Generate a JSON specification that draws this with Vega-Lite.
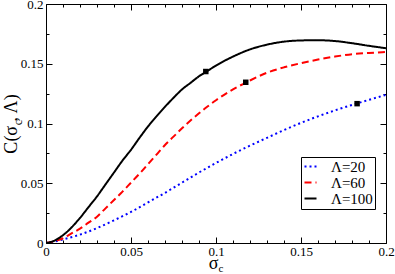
{
  "$schema": "https://vega.github.io/schema/vega-lite/v6.json",
  "width": 340,
  "height": 239,
  "autosize": {"type": "none"},
  "padding": {"left": 46, "top": 4, "right": 9, "bottom": 31},
  "background": "white",
  "config": {
    "font": "Liberation Serif",
    "view": {"stroke": null},
    "axis": {
      "grid": false,
      "domainColor": "black",
      "domainWidth": 1,
      "tickColor": "black",
      "tickWidth": 1,
      "labelColor": "black",
      "labelFont": "Liberation Serif",
      "labelFontSize": 13,
      "titleFont": "Liberation Serif",
      "titleColor": "black",
      "titleFontWeight": "normal",
      "titleFontSize": 18
    },
    "legend": {
      "labelFont": "Liberation Serif"
    },
    "text": {"font": "Liberation Serif"}
  },
  "datasets": {
    "curves": [
      {"sigma": 0, "C": 0, "series": "Λ=20"},
      {"sigma": 0.005, "C": 0.0013, "series": "Λ=20"},
      {"sigma": 0.01, "C": 0.003, "series": "Λ=20"},
      {"sigma": 0.02, "C": 0.007, "series": "Λ=20"},
      {"sigma": 0.03, "C": 0.0125, "series": "Λ=20"},
      {"sigma": 0.04, "C": 0.019, "series": "Λ=20"},
      {"sigma": 0.05, "C": 0.026, "series": "Λ=20"},
      {"sigma": 0.06, "C": 0.034, "series": "Λ=20"},
      {"sigma": 0.07, "C": 0.042, "series": "Λ=20"},
      {"sigma": 0.08, "C": 0.0505, "series": "Λ=20"},
      {"sigma": 0.09, "C": 0.059, "series": "Λ=20"},
      {"sigma": 0.1, "C": 0.067, "series": "Λ=20"},
      {"sigma": 0.11, "C": 0.0745, "series": "Λ=20"},
      {"sigma": 0.12, "C": 0.0815, "series": "Λ=20"},
      {"sigma": 0.13, "C": 0.088, "series": "Λ=20"},
      {"sigma": 0.14, "C": 0.0945, "series": "Λ=20"},
      {"sigma": 0.15, "C": 0.1005, "series": "Λ=20"},
      {"sigma": 0.16, "C": 0.106, "series": "Λ=20"},
      {"sigma": 0.17, "C": 0.111, "series": "Λ=20"},
      {"sigma": 0.18, "C": 0.1155, "series": "Λ=20"},
      {"sigma": 0.19, "C": 0.1198, "series": "Λ=20"},
      {"sigma": 0.2, "C": 0.124, "series": "Λ=20"},

      {"sigma": 0, "C": 0, "series": "Λ=60"},
      {"sigma": 0.005, "C": 0.0015, "series": "Λ=60"},
      {"sigma": 0.01, "C": 0.004, "series": "Λ=60"},
      {"sigma": 0.015, "C": 0.008, "series": "Λ=60"},
      {"sigma": 0.02, "C": 0.012, "series": "Λ=60"},
      {"sigma": 0.025, "C": 0.017, "series": "Λ=60"},
      {"sigma": 0.03, "C": 0.022, "series": "Λ=60"},
      {"sigma": 0.035, "C": 0.029, "series": "Λ=60"},
      {"sigma": 0.04, "C": 0.036, "series": "Λ=60"},
      {"sigma": 0.045, "C": 0.043, "series": "Λ=60"},
      {"sigma": 0.05, "C": 0.0505, "series": "Λ=60"},
      {"sigma": 0.055, "C": 0.058, "series": "Λ=60"},
      {"sigma": 0.06, "C": 0.066, "series": "Λ=60"},
      {"sigma": 0.065, "C": 0.074, "series": "Λ=60"},
      {"sigma": 0.07, "C": 0.082, "series": "Λ=60"},
      {"sigma": 0.075, "C": 0.089, "series": "Λ=60"},
      {"sigma": 0.08, "C": 0.096, "series": "Λ=60"},
      {"sigma": 0.085, "C": 0.1025, "series": "Λ=60"},
      {"sigma": 0.09, "C": 0.1085, "series": "Λ=60"},
      {"sigma": 0.095, "C": 0.1142, "series": "Λ=60"},
      {"sigma": 0.1, "C": 0.1195, "series": "Λ=60"},
      {"sigma": 0.11, "C": 0.1285, "series": "Λ=60"},
      {"sigma": 0.12, "C": 0.136, "series": "Λ=60"},
      {"sigma": 0.13, "C": 0.1425, "series": "Λ=60"},
      {"sigma": 0.14, "C": 0.147, "series": "Λ=60"},
      {"sigma": 0.15, "C": 0.1505, "series": "Λ=60"},
      {"sigma": 0.16, "C": 0.1535, "series": "Λ=60"},
      {"sigma": 0.17, "C": 0.156, "series": "Λ=60"},
      {"sigma": 0.18, "C": 0.158, "series": "Λ=60"},
      {"sigma": 0.19, "C": 0.159, "series": "Λ=60"},
      {"sigma": 0.2, "C": 0.1598, "series": "Λ=60"},

      {"sigma": 0, "C": 0, "series": "Λ=100"},
      {"sigma": 0.005, "C": 0.002, "series": "Λ=100"},
      {"sigma": 0.01, "C": 0.0065, "series": "Λ=100"},
      {"sigma": 0.015, "C": 0.013, "series": "Λ=100"},
      {"sigma": 0.02, "C": 0.021, "series": "Λ=100"},
      {"sigma": 0.025, "C": 0.03, "series": "Λ=100"},
      {"sigma": 0.03, "C": 0.039, "series": "Λ=100"},
      {"sigma": 0.035, "C": 0.049, "series": "Λ=100"},
      {"sigma": 0.04, "C": 0.059, "series": "Λ=100"},
      {"sigma": 0.045, "C": 0.069, "series": "Λ=100"},
      {"sigma": 0.05, "C": 0.078, "series": "Λ=100"},
      {"sigma": 0.055, "C": 0.088, "series": "Λ=100"},
      {"sigma": 0.06, "C": 0.0975, "series": "Λ=100"},
      {"sigma": 0.065, "C": 0.106, "series": "Λ=100"},
      {"sigma": 0.07, "C": 0.114, "series": "Λ=100"},
      {"sigma": 0.075, "C": 0.1215, "series": "Λ=100"},
      {"sigma": 0.08, "C": 0.1285, "series": "Λ=100"},
      {"sigma": 0.085, "C": 0.134, "series": "Λ=100"},
      {"sigma": 0.09, "C": 0.1395, "series": "Λ=100"},
      {"sigma": 0.095, "C": 0.144, "series": "Λ=100"},
      {"sigma": 0.1, "C": 0.1485, "series": "Λ=100"},
      {"sigma": 0.11, "C": 0.156, "series": "Λ=100"},
      {"sigma": 0.12, "C": 0.162, "series": "Λ=100"},
      {"sigma": 0.13, "C": 0.166, "series": "Λ=100"},
      {"sigma": 0.14, "C": 0.1685, "series": "Λ=100"},
      {"sigma": 0.15, "C": 0.1695, "series": "Λ=100"},
      {"sigma": 0.16, "C": 0.1697, "series": "Λ=100"},
      {"sigma": 0.17, "C": 0.169, "series": "Λ=100"},
      {"sigma": 0.18, "C": 0.1672, "series": "Λ=100"},
      {"sigma": 0.19, "C": 0.165, "series": "Λ=100"},
      {"sigma": 0.2, "C": 0.163, "series": "Λ=100"}
    ],
    "markers": [
      {"sigma": 0.094, "C": 0.1435},
      {"sigma": 0.1175, "C": 0.1345},
      {"sigma": 0.183, "C": 0.1166}
    ],
    "subs": [
      {"label": "c", "sigma": 0.1, "C": 0, "which": "x"},
      {"label": "c", "sigma": 0, "C": 0.1, "which": "y"}
    ]
  },
  "resolve": {"axis": {"x": "independent", "y": "independent"}},
  "layer": [
    {
      "data": {"name": "curves"},
      "mark": {"type": "line", "strokeWidth": 2, "interpolate": "monotone", "clip": true},
      "encoding": {
        "x": {
          "field": "sigma", "type": "quantitative",
          "scale": {"domain": [0, 0.2], "nice": false, "zero": false},
          "axis": {
            "orient": "bottom", "values": [0, 0.05, 0.1, 0.15, 0.2], "format": "~g",
            "tickSize": -6, "labelPadding": 8, "labelFlush": false,
            "title": "σ", "titleX": 167, "titleY": 25.5, "titleBaseline": "alphabetic", "titleAlign": "center"
          }
        },
        "y": {
          "field": "C", "type": "quantitative",
          "scale": {"domain": [0, 0.2], "nice": false, "zero": false},
          "axis": {
            "orient": "left", "values": [0, 0.05, 0.1, 0.15, 0.2], "format": "~g",
            "tickSize": -6, "labelPadding": 9, "labelFlush": false,
            "title": "C(σ  , Λ)", "titleX": -30, "titleY": 119.5, "titleAngle": 270,
            "titleBaseline": "alphabetic", "titleAlign": "center"
          }
        },
        "color": {
          "field": "series", "type": "nominal",
          "scale": {"domain": ["Λ=20", "Λ=60", "Λ=100"], "range": ["#0000ff", "#ff0000", "#000000"]},
          "legend": {
            "title": null, "orient": "none", "legendX": 255, "legendY": 153,
            "strokeColor": "black", "fillColor": "white", "padding": 2,
            "symbolType": "stroke", "symbolSize": 144, "symbolStrokeWidth": 2,
            "labelFont": "Liberation Serif", "labelFontSize": 15, "labelColor": "black",
            "labelOffset": 13, "rowPadding": 0
          }
        },
        "strokeDash": {
          "field": "series", "type": "nominal",
          "scale": {"domain": ["Λ=20", "Λ=60", "Λ=100"], "range": [[2, 3], [7, 4], [1, 0]]},
          "legend": {"title": null}
        }
      }
    },
    {
      "data": {"name": "markers"},
      "mark": {"type": "point", "shape": "square", "filled": true, "size": 30, "color": "black", "opacity": 1},
      "encoding": {
        "x": {
          "field": "sigma", "type": "quantitative",
          "axis": {
            "orient": "bottom", "values": [0.01, 0.02, 0.03, 0.04, 0.06, 0.07, 0.08, 0.09, 0.11, 0.12, 0.13, 0.14, 0.16, 0.17, 0.18, 0.19],
            "labels": false, "domain": false, "tickSize": -3, "title": null
          }
        },
        "y": {
          "field": "C", "type": "quantitative",
          "axis": {
            "orient": "left", "values": [0.025, 0.075, 0.125, 0.175],
            "labels": false, "domain": false, "tickSize": -3, "title": null
          }
        }
      }
    },
    {
      "data": {"name": "markers"},
      "mark": {"type": "point", "opacity": 0},
      "encoding": {
        "x": {
          "field": "sigma", "type": "quantitative",
          "axis": {
            "orient": "top", "values": [0, 0.05, 0.1, 0.15, 0.2],
            "labels": false, "tickSize": -6, "title": null
          }
        },
        "y": {
          "field": "C", "type": "quantitative",
          "axis": {
            "orient": "right", "values": [0, 0.05, 0.1, 0.15, 0.2],
            "labels": false, "tickSize": -6, "title": null
          }
        }
      }
    },
    {
      "data": {"name": "markers"},
      "mark": {"type": "point", "opacity": 0},
      "encoding": {
        "x": {
          "field": "sigma", "type": "quantitative",
          "axis": {
            "orient": "top", "values": [0.01, 0.02, 0.03, 0.04, 0.06, 0.07, 0.08, 0.09, 0.11, 0.12, 0.13, 0.14, 0.16, 0.17, 0.18, 0.19],
            "labels": false, "domain": false, "tickSize": -3, "title": null
          }
        },
        "y": {
          "field": "C", "type": "quantitative",
          "axis": {
            "orient": "right", "values": [0.025, 0.075, 0.125, 0.175],
            "labels": false, "domain": false, "tickSize": -3, "title": null
          }
        }
      }
    },
    {
      "data": {"name": "subs"},
      "transform": [{"filter": "datum.which === 'x'"}],
      "mark": {"type": "text", "fontSize": 11, "font": "Liberation Serif", "color": "black", "align": "center", "baseline": "middle", "xOffset": 5, "yOffset": 25.5, "clip": false},
      "encoding": {
        "x": {"field": "sigma", "type": "quantitative", "axis": null},
        "y": {"field": "C", "type": "quantitative", "axis": null},
        "text": {"field": "label"}
      }
    },
    {
      "data": {"name": "subs"},
      "transform": [{"filter": "datum.which === 'y'"}],
      "mark": {"type": "text", "fontSize": 12, "font": "Liberation Serif", "color": "black", "align": "center", "baseline": "middle", "angle": 270, "xOffset": -28, "yOffset": -1, "clip": false},
      "encoding": {
        "x": {"field": "sigma", "type": "quantitative", "axis": null},
        "y": {"field": "C", "type": "quantitative", "axis": null},
        "text": {"field": "label"}
      }
    }
  ]
}
